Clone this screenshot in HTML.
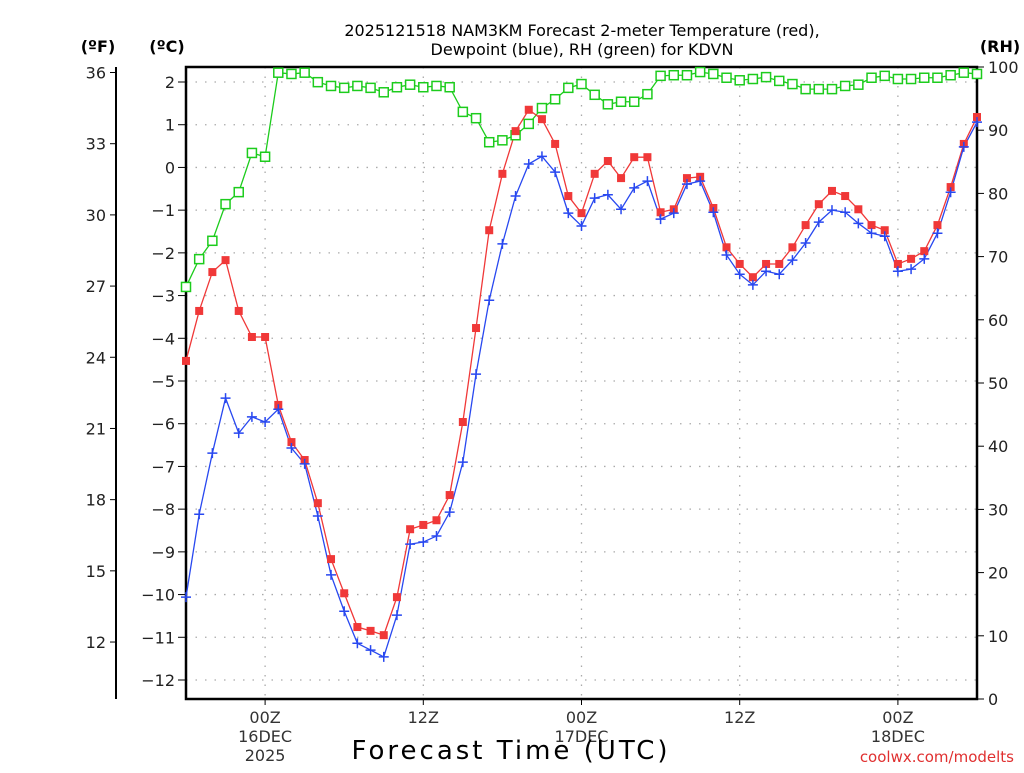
<!DOCTYPE html>
<html><head><meta charset="utf-8"><style>
body{margin:0;background:#fff}
svg text{font-family:"DejaVu Sans","Liberation Sans",sans-serif}
</style></head><body>
<svg id="chart" width="1024" height="768" viewBox="0 0 1024 768" xmlns="http://www.w3.org/2000/svg">
<g id="grid"></g>
<g id="axes"></g>
<g id="series"></g>
<text x="582" y="36" text-anchor="middle" font-size="16" fill="#000">2025121518 NAM3KM Forecast 2-meter Temperature (red),</text>
<text x="582" y="55" text-anchor="middle" font-size="16" fill="#000">Dewpoint (blue), RH (green) for KDVN</text>
<text x="98" y="52" text-anchor="middle" font-size="16" font-weight="bold">(ºF)</text>
<text x="167" y="52" text-anchor="middle" font-size="16" font-weight="bold">(ºC)</text>
<text x="1000" y="52" text-anchor="middle" font-size="16" font-weight="bold">(RH)</text>
<text x="511" y="759" text-anchor="middle" font-size="26" fill="#000" letter-spacing="3">Forecast Time (UTC)</text>
<text x="1014" y="762" text-anchor="end" font-size="15" fill="#e03030">coolwx.com/modelts</text>
</svg>
<script>
const hours = [];
for (let i = 0; i <= 60; i++) hours.push(i);
const tempC = [-4.53,-3.36,-2.45,-2.17,-3.36,-3.97,-3.97,-5.56,-6.43,-6.85,-7.86,-9.17,-9.97,-10.76,-10.85,-10.95,-10.06,-8.47,-8.37,-8.26,-7.67,-5.96,-3.76,-1.47,-0.15,0.85,1.35,1.13,0.55,-0.67,-1.07,-0.15,0.15,-0.25,0.24,0.24,-1.05,-0.98,-0.25,-0.22,-0.95,-1.87,-2.26,-2.57,-2.26,-2.26,-1.87,-1.35,-0.86,-0.55,-0.67,-0.98,-1.35,-1.47,-2.26,-2.14,-1.96,-1.35,-0.46,0.55,1.18];
const dewC = [-10.06,-8.12,-6.69,-5.40,-6.22,-5.84,-5.96,-5.66,-6.57,-6.94,-8.16,-9.54,-10.39,-11.14,-11.30,-11.46,-10.48,-8.82,-8.77,-8.63,-8.07,-6.90,-4.84,-3.11,-1.79,-0.67,0.08,0.26,-0.11,-1.07,-1.37,-0.72,-0.64,-0.98,-0.48,-0.32,-1.21,-1.07,-0.39,-0.32,-1.05,-2.05,-2.50,-2.75,-2.43,-2.50,-2.17,-1.77,-1.28,-1.00,-1.05,-1.31,-1.54,-1.61,-2.43,-2.38,-2.14,-1.54,-0.58,0.48,1.06];
const rh = [65.2,69.6,72.5,78.3,80.2,86.4,85.8,99.1,98.9,99.1,97.6,97.0,96.7,97.0,96.7,96.0,96.8,97.2,96.8,97.0,96.8,92.9,91.9,88.1,88.4,89.2,91.0,93.5,94.9,96.7,97.3,95.6,94.1,94.5,94.5,95.7,98.6,98.7,98.7,99.2,98.9,98.3,97.9,98.1,98.4,97.8,97.3,96.5,96.5,96.5,97.0,97.2,98.3,98.6,98.1,98.1,98.3,98.3,98.7,99.1,98.9];
const cTicks = [2,1,0,-1,-2,-3,-4,-5,-6,-7,-8,-9,-10,-11,-12];
const fTicks = [36,33,30,27,24,21,18,15,12];
const rhTicks = [0,10,20,30,40,50,60,70,80,90,100];
const xTickHours = [6,18,30,42,54];
const xTickLabels = [["00Z","16DEC","2025"],["12Z"],["00Z","17DEC"],["12Z"],["00Z","18DEC"]];

const L=186,R=977,T=67,B=699;
const xs=h=>L+(h/60)*(R-L);
const yc=c=>82+(2-c)*(598/14);
const yf=f=>yc((f-32)/1.8);
const yr=r=>B-r*(B-T)/100;
const NS="http://www.w3.org/2000/svg";
function mk(tag,attrs,parent){const e=document.createElementNS(NS,tag);for(const k in attrs)e.setAttribute(k,attrs[k]);parent.appendChild(e);return e;}
const grid=document.getElementById('grid'),axes=document.getElementById('axes'),series=document.getElementById('series');

cTicks.forEach(c=>{
  const y=yc(c);
  const g=mk('line',{x1:L,x2:R,y1:y,y2:y,stroke:'#aaa','stroke-width':1.3,'stroke-dasharray':'1.5,8'},grid);
  
  
  const t=mk('line',{x1:178,x2:L,y1:y,y2:y,stroke:'#000','stroke-width':1},axes);
  
  
  const tx=mk('text',{x:175,y:y+6,'text-anchor':'end','font-size':16,fill:'#222'},axes);
  tx.textContent=String(c).replace('-','−');
  
  
});
xTickHours.forEach((h,i)=>{
  const x=xs(h);
  const g=mk('line',{x1:x,x2:x,y1:T,y2:B,stroke:'#aaa','stroke-width':1.3,'stroke-dasharray':'1.5,8'},grid);
  
  
  const t=mk('line',{x1:x,x2:x,y1:B,y2:B+6,stroke:'#000','stroke-width':1},axes);
  
  
  xTickLabels[i].forEach((s,j)=>{
    const tx=mk('text',{x:x,y:723+j*19,'text-anchor':'middle','font-size':16,fill:'#333'},axes);
    tx.textContent=s;
    
    
  });
});
const fl=mk('line',{x1:116,x2:116,y1:T,y2:B,stroke:'#000','stroke-width':2},axes);


fTicks.forEach(f=>{
  const y=yf(f);
  const t=mk('line',{x1:110,x2:116,y1:y,y2:y,stroke:'#000'},axes);
  
  
  const tx=mk('text',{x:106,y:y+6,'text-anchor':'end','font-size':16,fill:'#222'},axes);
  tx.textContent=f;
  
  
});
rhTicks.forEach(r=>{
  const y=yr(r);
  const t=mk('line',{x1:R,x2:R+7,y1:y,y2:y,stroke:'#000'},axes);
  
  
  const tx=mk('text',{x:988,y:y+6,'text-anchor':'start','font-size':16,fill:'#222'},axes);
  tx.textContent=r;
  
  
});
const frame=mk('rect',{x:L,y:T,width:R-L,height:B-T,fill:'none',stroke:'#000','stroke-width':2.5},axes);



function line(vals,yfn,color,name){
  const p=mk('polyline',{points:vals.map((v,i)=>xs(hours[i])+','+yfn(v)).join(' '),fill:'none',stroke:color,'stroke-width':1.3},series);
  
  
}
line(rh,yr,'#1ccc1c','rh-line');
line(tempC,yc,'#f03838','temperature-line');
line(dewC,yc,'#2848f0','dewpoint-line');
rh.forEach((v,i)=>{
  const m=mk('rect',{x:xs(hours[i])-4.5,y:yr(v)-4.5,width:9,height:9,fill:'#fff',stroke:'#1ccc1c','stroke-width':1.5},series);
  
  
});
tempC.forEach((v,i)=>{
  const m=mk('rect',{x:xs(hours[i])-4,y:yc(v)-4,width:8,height:8,fill:'#f03838'},series);
  
  
});
dewC.forEach((v,i)=>{
  const x=xs(hours[i]),y=yc(v);
  const m=mk('path',{d:`M${x-5},${y}H${x+5}M${x},${y-5}V${y+5}`,stroke:'#2848f0','stroke-width':1.5,fill:'none'},series);
  
  
});
</script>
</body></html>
